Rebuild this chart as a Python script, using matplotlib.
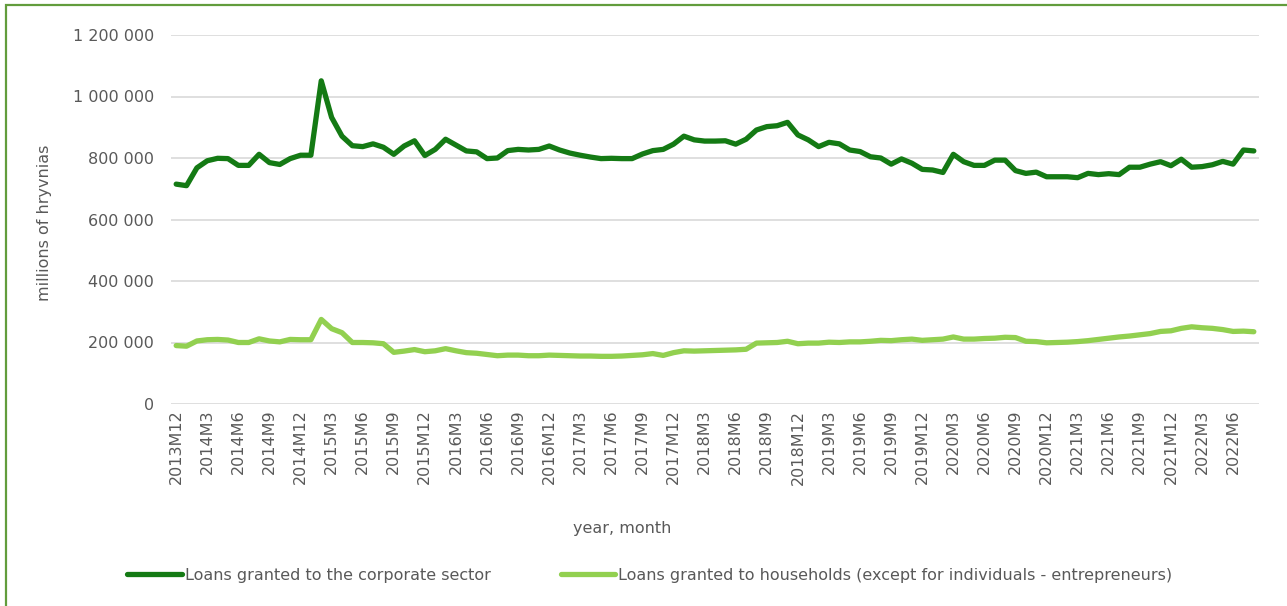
import matplotlib.pyplot as plt
import numpy as np
from matplotlib.patches import Rectangle
from matplotlib.ticker import FuncFormatter

# months from 2013M12 to 2022M8
months = []
for y in range(2013, 2023):
    for m in range(1, 13):
        if (y == 2013 and m < 12) or (y == 2022 and m > 8):
            continue
        months.append(f"{y}M{m}")

# loans granted to the corporate sector, thousands of millions UAH
corporate = [715, 710, 768, 791, 799, 798, 776, 776, 812, 785,
             779, 798, 809, 809, 1051, 932, 871, 840, 837, 846,
             835, 812, 839, 856, 808, 828, 861, 842, 823, 820,
             798, 800, 824, 828, 826, 828, 839, 826, 816, 809,
             803, 798, 799, 798, 798, 813, 824, 828, 845, 871,
             859, 855, 855, 856, 845, 861, 891, 902, 905, 916,
             875, 859, 837, 851, 846, 826, 821, 804, 800, 780,
             797, 783, 763, 761, 753, 812, 788, 776, 776, 793,
             793, 759, 750, 754, 739, 739, 739, 736, 750, 746,
             749, 746, 770, 770, 780, 788, 775, 796, 770, 772,
             778, 789, 780, 826, 823]

# loans granted to households (except individual entrepreneurs)
households = [190, 188, 205, 209, 210, 208, 200, 200, 212, 205,
              202, 210, 209, 209, 275, 245, 232, 200, 200, 199,
              196, 168, 172, 177, 170, 173, 180, 173, 167, 165,
              161, 157, 159, 159, 157, 157, 159, 158, 157, 156,
              156, 155, 155, 156, 158, 160, 164, 158, 167, 173,
              172, 173, 174, 175, 176, 178, 198, 199, 200, 204,
              196, 198, 198, 201, 200, 202, 202, 204, 207, 206,
              209, 211, 207, 209, 211, 218, 211, 211, 213, 214,
              217, 216, 204, 203, 199, 200, 201, 203, 206, 210,
              214, 218, 221, 225, 229, 236, 238, 246, 251, 248,
              246, 242, 236, 237, 235]

corporate = np.array(corporate) * 1000
households = np.array(households) * 1000
x = np.arange(len(months))

fs = 11.5
grey = '#595959'

fig = plt.figure(figsize=(12.87, 6.06), dpi=100)
fig.patches.append(Rectangle((0.0045, -0.01), 1.2, 1.0015, transform=fig.transFigure,
                             fill=False, edgecolor='#629c3c', linewidth=1.6))
ax = fig.add_axes([171 / 1287, 1 - 404 / 606, 1088 / 1287, 369 / 606])

ax.plot(x, corporate, color='#147a14', linewidth=3.8, solid_capstyle='round',
        solid_joinstyle='round', label='Loans granted to the corporate sector')
ax.plot(x, households, color='#92d050', linewidth=3.8, solid_capstyle='round',
        solid_joinstyle='round',
        label='Loans granted to households (except for individuals - entrepreneurs)')

ax.set_xlim(-0.5, len(months) - 0.5)
ax.set_ylim(0, 1200000)
ax.set_yticks(np.arange(0, 1200001, 200000))
ax.yaxis.set_major_formatter(FuncFormatter(lambda v, p: f"{v:,.0f}".replace(',', ' ')))
ax.set_xticks(x[::3])
ax.set_xticklabels(months[::3], rotation=90)

ax.grid(axis='y', color='#d9d9d9', linewidth=1.2)
ax.set_axisbelow(True)
for s in ax.spines.values():
    s.set_visible(False)
ax.tick_params(length=0, colors=grey, labelsize=fs)
ax.tick_params(axis='y', pad=12)
ax.tick_params(axis='x', pad=4)

ax.set_ylabel('millions of hryvnias', color=grey, fontsize=fs)
ax.yaxis.set_label_coords(-0.109, 0.49)
ax.set_xlabel('year, month', color=grey, fontsize=fs)
ax.xaxis.set_label_coords(0.4145, -0.318)

leg = fig.legend(loc='center', bbox_to_anchor=(0.505, 0.051), ncol=2, frameon=False,
                 fontsize=fs, handlelength=3.4, handletextpad=0.2, columnspacing=4.4)
for t in leg.get_texts():
    t.set_color(grey)

plt.savefig('out.png', dpi=100)
